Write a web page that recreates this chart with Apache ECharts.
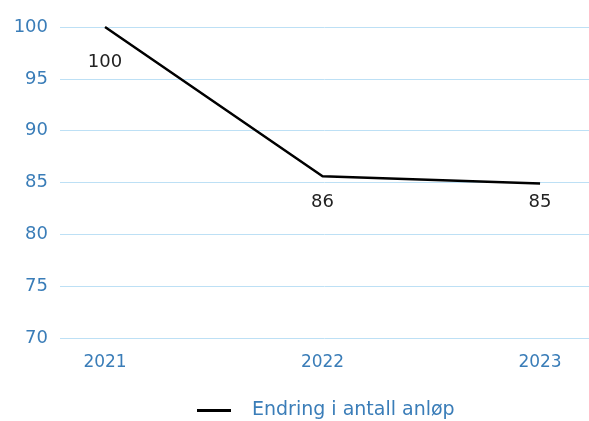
<!DOCTYPE html>
<html>
<head>
<meta charset="utf-8">
<script src="https://cdn.jsdelivr.net/npm/echarts@6/dist/echarts.min.js"></script>
<style>
  html, body { margin: 0; padding: 0; background: #fff; }
  #main { width: 589px; height: 421px; }
</style>
</head>
<body>
<div id="main"></div>
<script>
// data
var years = [2021, 2022, 2023];
var values = [100, 85.6, 84.9];
var labelOffsets = [35, 26, 18];
var seriesName = 'Endring i antall anløp';

var chart = echarts.init(document.getElementById('main'));
var blue = '#3a7db8';
var font = 'DejaVu Sans';

var option = {
    animation: false,
    grid: { left: 60, right: 0, top: 27, bottom: 83 },
    legend: {
        bottom: -4,
        left: 192,
        itemWidth: 34,
        itemHeight: 3,
        itemGap: 10,
        textStyle: { color: blue, fontSize: 19, fontFamily: font, padding: [0, 0, 0, 16] },
        data: [{ name: seriesName, icon: 'rect', itemStyle: { color: '#000', opacity: 1 } }]
    },
    xAxis: {
        type: 'value',
        min: 2020.793,
        max: 2023.225,
        axisLine: { show: false },
        axisTick: { show: false },
        splitLine: { show: false },
        axisLabel: {
            customValues: years,
            color: blue,
            fontSize: 17,
            fontFamily: font,
            margin: 16,
            formatter: function (v) { return String(v); }
        }
    },
    yAxis: {
        type: 'value',
        min: 70,
        max: 100,
        interval: 5,
        axisLine: { show: false },
        axisTick: { show: false },
        axisLabel: { color: blue, fontSize: 18, fontFamily: font, margin: 12 },
        splitLine: { lineStyle: { color: '#bde0f5', width: 1 } }
    },
    series: [{
        name: seriesName,
        type: 'line',
        data: years.map(function (y, i) {
            return [y, values[i]];
        }),
        symbol: 'circle',
        symbolSize: 1,
        showSymbol: true,
        lineStyle: { color: '#000', width: 2.5 },
        itemStyle: { color: 'rgba(0,0,0,0)' },
        label: {
            show: true,
            position: 'bottom',
            distance: 8,
            color: '#222',
            fontSize: 18,
            fontFamily: font,
            formatter: function (p) { return Math.round(p.value[1]); }
        },
        labelLayout: function (p) {
            return { dy: labelOffsets[p.dataIndex] - 17 };
        }
    }]
};
chart.setOption(option);
</script>
</body>
</html>
